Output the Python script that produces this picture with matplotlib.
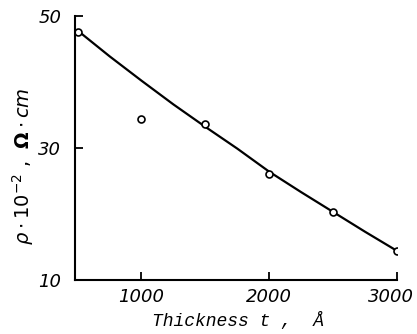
import matplotlib
matplotlib.use('Agg')
import matplotlib.pyplot as plt
import matplotlib.transforms as mtransforms

# measured points
t_pts   = [500, 1000, 1500, 2000, 2500, 3000]
rho_pts = [47.6, 34.4, 33.6, 26.1, 20.3, 14.4]

# fitted curve
t_fit   = [500, 750, 1000, 1250, 1500, 1750, 2000, 2250, 2500, 2750, 3000]
rho_fit = [47.8, 43.9, 40.2, 36.6, 33.2, 29.9, 26.4, 23.3, 20.3, 17.3, 14.4]

xticks = [1000, 2000, 3000]
yticks = [10, 30, 50]

fig = plt.figure(figsize=(4.17, 3.34), dpi=100)
ax = fig.add_axes([0.180, 0.162, 0.772, 0.790])

ax.plot(t_fit, rho_fit, 'k-', lw=1.6)
ax.plot(t_pts, rho_pts, 'o', mfc='white', mec='black', ms=5, mew=1.2)

ax.set_xlim(480, 3000)
ax.set_ylim(10, 50)
ax.set_xticks(xticks)
ax.set_yticks(yticks)
ax.spines['top'].set_visible(False)
ax.spines['right'].set_visible(False)
ax.spines['left'].set_linewidth(1.5)
ax.spines['bottom'].set_linewidth(1.5)
ax.tick_params(direction='in', length=6, width=1.3, labelsize=13)
ax.tick_params(axis='x', pad=6)
ax.tick_params(axis='y', pad=10)
for lab in ax.get_xticklabels() + ax.get_yticklabels():
    lab.set_fontstyle('italic')

# last x label sits a bit left of its tick in the original
last = ax.get_xticklabels()[-1]
last.set_transform(last.get_transform() +
                   mtransforms.ScaledTranslation(-6/100, 0, fig.dpi_scale_trans))

ax.set_xlabel('Thickness t ,  Å', family='Liberation Mono', style='italic',
              fontsize=13)
ax.xaxis.set_label_coords(0.505, -0.12)
ax.set_ylabel(r'$\rho\cdot10^{-2}$ ,  $\mathbf{\Omega}\cdot cm$', fontsize=14)
ax.yaxis.set_label_coords(-0.122, 0.43)

fig.savefig('out.png', dpi=100)
